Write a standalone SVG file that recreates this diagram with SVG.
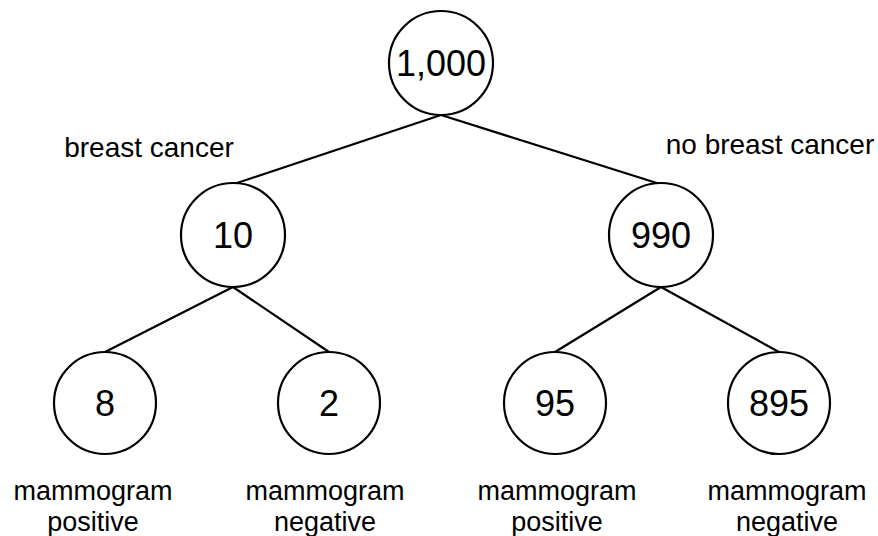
<svg xmlns="http://www.w3.org/2000/svg" width="878" height="536" viewBox="0 0 878 536">
<style>
.node circle{fill:#fff;stroke:#000;stroke-width:2.2}
.num{font-family:"Liberation Sans",Arial,sans-serif;font-size:36px;text-anchor:middle;fill:#000}
.lbl{font-family:"Liberation Sans",Arial,sans-serif;font-size:28px;text-anchor:middle;fill:#000}
.sub{font-size:27px}
#edges line{stroke:#000;stroke-width:2.2}
</style>
<rect width="878" height="536" fill="#fff"/>
<g id="edges">
<line x1="441" y1="115" x2="234" y2="184"/>
<line x1="441" y1="115" x2="660" y2="184"/>
<line x1="233" y1="287" x2="105" y2="352"/>
<line x1="233" y1="287" x2="329" y2="352"/>
<line x1="661" y1="287" x2="555" y2="352"/>
<line x1="661" y1="287" x2="779" y2="352"/>
</g>
<g id="n-root" class="node"><circle cx="441" cy="63" r="52"/><text class="num" x="441" y="76">1,000</text></g>
<g id="n-10" class="node"><circle cx="233" cy="235" r="52"/><text class="num" x="233" y="248">10</text></g>
<g id="n-990" class="node"><circle cx="661" cy="235" r="52"/><text class="num" x="661" y="248">990</text></g>
<g id="n-8" class="node"><circle cx="105" cy="403" r="51"/><text class="num" x="105" y="416">8</text></g>
<g id="n-2" class="node"><circle cx="329" cy="403" r="51"/><text class="num" x="329" y="416">2</text></g>
<g id="n-95" class="node"><circle cx="555" cy="403" r="51"/><text class="num" x="555" y="416">95</text></g>
<g id="n-895" class="node"><circle cx="779" cy="403" r="51"/><text class="num" x="779" y="416">895</text></g>
<g id="labels">
<text class="lbl" x="149" y="157">breast cancer</text>
<text class="lbl" x="770" y="154">no breast cancer</text>
<text class="lbl sub" x="93" y="500">mammogram</text>
<text class="lbl sub" x="93" y="531">positive</text>
<text class="lbl sub" x="325" y="500">mammogram</text>
<text class="lbl sub" x="325" y="531">negative</text>
<text class="lbl sub" x="557" y="500">mammogram</text>
<text class="lbl sub" x="557" y="531">positive</text>
<text class="lbl sub" x="787" y="500">mammogram</text>
<text class="lbl sub" x="787" y="531">negative</text>
</g>
</svg>
